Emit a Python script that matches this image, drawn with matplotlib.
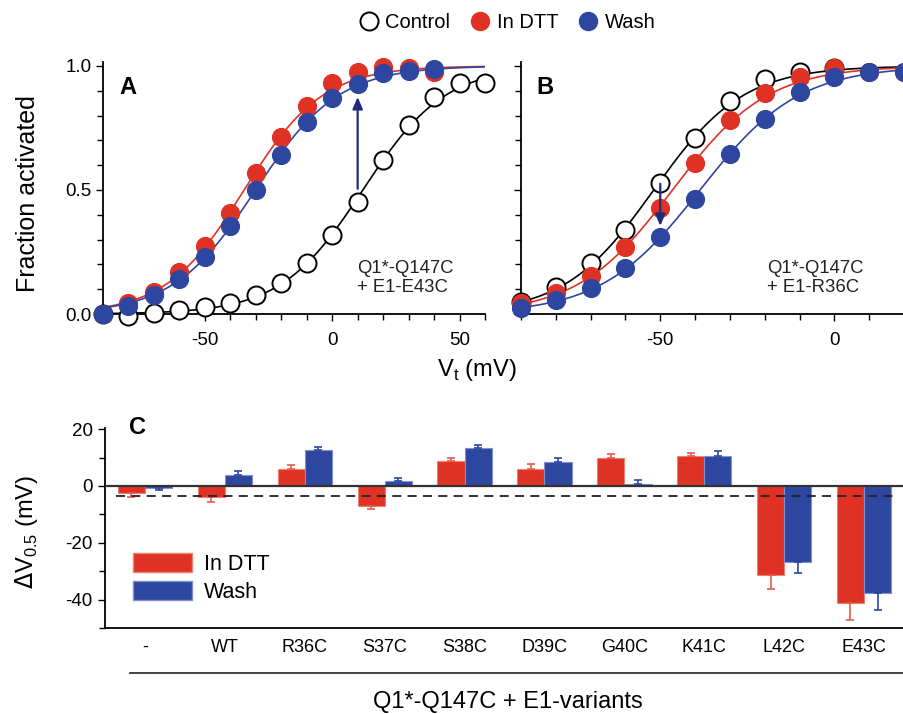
import numpy as np
import matplotlib
matplotlib.use("Agg")
import matplotlib.pyplot as plt
from matplotlib.lines import Line2D
from matplotlib.patches import Patch

plt.rcParams['font.family'] = ['Liberation Sans', 'DejaVu Sans']
plt.rcParams['axes.unicode_minus'] = False

RED = '#E03224'
BLUE = '#2D46A0'
NAVY = '#1F2C7C'

# panel A: Q1*-Q147C + E1-E43C
volt_a = [-90, -80, -70, -60, -50, -40, -30, -20, -10, 0, 10, 20, 30, 40, 50, 60]
ctrl_a = [0.0, -0.01, 0.005, 0.015, 0.03, 0.045, 0.075, 0.125, 0.205, 0.32, 0.45, 0.62, 0.76, 0.875, 0.93, 0.93]
volt_a2 = [-90, -80, -70, -60, -50, -40, -30, -20, -10, 0, 10, 20, 30, 40]
dtt_a = [0.0, 0.045, 0.087, 0.168, 0.275, 0.406, 0.567, 0.715, 0.84, 0.93, 0.975, 0.995, 0.99, 0.975]
wash_a = [0.0, 0.034, 0.077, 0.141, 0.231, 0.355, 0.5, 0.64, 0.773, 0.87, 0.927, 0.97, 0.978, 0.988]

# panel B: Q1*-Q147C + E1-R36C
volt_b = [-90, -80, -70, -60, -50, -40, -30, -20, -10, 0]
ctrl_b = [0.05, 0.11, 0.207, 0.34, 0.527, 0.708, 0.859, 0.948, 0.977, 0.99]
volt_b2 = [-90, -80, -70, -60, -50, -40, -30, -20, -10, 0, 10, 20]
dtt_b = [0.043, 0.083, 0.155, 0.269, 0.429, 0.608, 0.782, 0.89, 0.954, 0.99, 0.977, 0.975]
wash_b = [0.025, 0.056, 0.103, 0.184, 0.312, 0.464, 0.644, 0.788, 0.894, 0.954, 0.975, 0.975]

# panel C
variants = ['-', 'WT', 'R36C', 'S37C', 'S38C', 'D39C', 'G40C', 'K41C', 'L42C', 'E43C']
dv_dtt = [-2.6, -4.0, 6.0, -7.0, 8.8, 6.0, 10.0, 10.6, -31.2, -41.2]
err_dtt = [1.4, 1.8, 1.4, 1.1, 0.9, 1.7, 1.4, 1.1, 5.2, 5.8]
dv_wash = [-0.8, 3.9, 12.5, 1.8, 13.5, 8.4, 0.7, 10.4, -26.7, -37.7]
err_wash = [0.6, 1.5, 1.2, 1.1, 0.9, 1.6, 1.5, 1.9, 4.0, 5.9]
baseline = -3.4


def boltz_fit(v, f, vmin, vmax):
    # Boltzmann fit through logit linearisation of the measured points
    v = np.asarray(v, float)
    f = np.asarray(f, float)
    m = (f > 0.02) & (f < 0.98)
    w = f[m] * (1 - f[m])
    slope, icpt = np.polyfit(v[m], np.log(f[m] / (1 - f[m])), 1, w=w)
    vv = np.linspace(vmin, vmax, 300)
    return vv, 1 / (1 + np.exp(-(slope * vv + icpt)))


def style_axis(ax, xlim, xmajor, show_ylabels):
    ax.set_xlim(*xlim)
    ax.set_ylim(0, 1.016)
    for s in ['top', 'right']:
        ax.spines[s].set_visible(False)
    for s in ['left', 'bottom']:
        ax.spines[s].set_linewidth(1.3)
    ax.set_xticks(xmajor)
    ax.set_xticks(np.arange(xlim[0], xlim[1] + 1, 10), minor=True)
    ax.set_yticks([0, 0.5, 1.0])
    ax.set_yticks(np.arange(0, 1.01, 0.1), minor=True)
    if show_ylabels:
        ax.set_yticklabels(['0.0', '0.5', '1.0'])
    else:
        ax.set_yticklabels([])
    ax.tick_params(which='both', direction='out', width=1.0, labelsize=13.5)
    ax.tick_params(which='major', length=5)
    ax.tick_params(axis='x', which='major', pad=8)
    ax.tick_params(axis='y', which='major', pad=3)
    ax.tick_params(which='minor', length=4)


def draw_panel(ax, v_ctrl, ctrl, v_tr, dtt, wash, xlim):
    for v, f, col in [(v_ctrl, ctrl, 'black'), (v_tr, dtt, RED), (v_tr, wash, BLUE)]:
        vv, ff = boltz_fit(v, f, xlim[0], xlim[1])
        ax.plot(vv, ff, color=col, lw=1.2, zorder=2)
    ax.plot(v_ctrl, ctrl, 'o', ms=13, mfc='white', mec='black', mew=1.4,
            zorder=3, clip_on=False)
    ax.plot(v_tr, dtt, 'o', ms=13, mfc=RED, mec=RED, mew=0.8, zorder=4, clip_on=False)
    ax.plot(v_tr, wash, 'o', ms=13, mfc=BLUE, mec=BLUE, mew=0.8, zorder=5, clip_on=False)


fig = plt.figure(figsize=(9.04, 7.14), dpi=100)
axA = fig.add_axes([0.1139, 0.5602, 0.4226, 0.353])
axB = fig.add_axes([0.5763, 0.5602, 0.4237, 0.353])
axC = fig.add_axes([0.1162, 0.1204, 0.8838, 0.2802])

draw_panel(axA, volt_a, ctrl_a, volt_a2, dtt_a, wash_a, (-90, 60))
style_axis(axA, (-90, 60), [-50, 0, 50], True)
draw_panel(axB, volt_b, ctrl_b, volt_b2, dtt_b, wash_b, (-90, 20))
style_axis(axB, (-90, 20), [-50, 0], False)

arrow = dict(arrowstyle='-|>,head_length=0.7,head_width=0.3', color=NAVY, lw=1.6,
             shrinkA=0, shrinkB=0)
axA.annotate('', xy=(10, 0.875), xytext=(10, 0.505), arrowprops=arrow, zorder=6)
axB.annotate('', xy=(-50, 0.355), xytext=(-50, 0.525), arrowprops=arrow, zorder=6)

axA.text(0.665, 0.215, 'Q1*-Q147C\n+ E1-E43C', transform=axA.transAxes, fontsize=13.3,
         va='top', ha='left', linespacing=1.2, color='#222222')
axB.text(0.642, 0.215, 'Q1*-Q147C\n+ E1-R36C', transform=axB.transAxes, fontsize=13.3,
         va='top', ha='left', linespacing=1.2, color='#222222')
axA.text(0.065, 0.90, 'A', transform=axA.transAxes, fontsize=17, fontweight='bold',
         ha='center', va='center')
axB.text(0.063, 0.90, 'B', transform=axB.transAxes, fontsize=17, fontweight='bold',
         ha='center', va='center')

fig.text(0.031, 0.729, 'Fraction activated', rotation=90, fontsize=18, ha='center', va='center')
fig.text(0.527, 0.482, r'V$_\mathregular{t}$ (mV)', fontsize=17, ha='center', va='center')

top_handles = [
    Line2D([], [], ls='', marker='o', ms=13, mfc='white', mec='black', mew=1.4),
    Line2D([], [], ls='', marker='o', ms=13, mfc=RED, mec=RED),
    Line2D([], [], ls='', marker='o', ms=13, mfc=BLUE, mec=BLUE),
]
fig.legend(top_handles, ['Control', 'In DTT', 'Wash'], loc='center', ncol=3,
           bbox_to_anchor=(0.561, 0.969), frameon=False, fontsize=14.5,
           handlelength=1.0, handletextpad=0.3, columnspacing=1.0, borderpad=0)

# panel C
x = np.arange(len(variants))
w = 0.34
dtt = np.array(dv_dtt)
wash = np.array(dv_wash)
e_dtt = np.array(err_dtt)
e_wash = np.array(err_wash)
yerr_dtt = [np.where(dtt < 0, e_dtt, 0), np.where(dtt >= 0, e_dtt, 0)]
yerr_wash = [np.where(wash < 0, e_wash, 0), np.where(wash >= 0, e_wash, 0)]

axC.bar(x - w / 2, dtt, w, color=RED, edgecolor='#F08070', lw=0.8, zorder=2)
axC.bar(x + w / 2, wash, w, color=BLUE, edgecolor='#8090D0', lw=0.8, zorder=2)
axC.errorbar(x - w / 2, dtt, yerr=yerr_dtt, fmt='none', ecolor='#E85A50', elinewidth=1.2,
             capsize=3, capthick=1.2, zorder=3)
axC.errorbar(x + w / 2, wash, yerr=yerr_wash, fmt='none', ecolor=BLUE, elinewidth=1.2,
             capsize=3, capthick=1.2, zorder=3)
axC.axhline(0, color='#333333', lw=1.6, zorder=4)
axC.hlines(baseline, -0.36, 9.39, colors='#222222', linestyles=(0, (5, 3.5)), lw=1.3, zorder=4)

axC.set_xlim(-0.5, 9.5)
axC.set_ylim(-50, 20.4)
for s in ['top', 'right']:
    axC.spines[s].set_visible(False)
for s in ['left', 'bottom']:
    axC.spines[s].set_linewidth(1.3)
axC.set_xticks(x)
axC.set_xticklabels(variants)
axC.tick_params(axis='x', length=0, labelsize=13, pad=8)
axC.set_yticks([-40, -20, 0, 20])
axC.set_yticks(np.arange(-50, 21, 10), minor=True)
axC.tick_params(axis='y', which='both', direction='out', width=1.0, labelsize=13.5)
axC.tick_params(axis='y', which='major', length=5, pad=4)
axC.tick_params(axis='y', which='minor', length=4)

axC.legend([Patch(facecolor=RED, edgecolor='#F08070'), Patch(facecolor=BLUE, edgecolor='#8090D0')],
           ['In DTT', 'Wash'], loc='upper left', bbox_to_anchor=(133 / 904, 1 - 553 / 714),
           bbox_transform=fig.transFigure, frameon=False, fontsize=15.5, handlelength=2.74,
           handleheight=0.98, labelspacing=0.28, handletextpad=0.56, borderpad=0, borderaxespad=0)

fig.text(137 / 904, 1 - 428 / 714, 'C', fontsize=17, fontweight='bold', ha='center', va='center')
fig.text(0.029, 1 - 532 / 714, r'$\Delta$V$_\mathregular{0.5}$ (mV)', rotation=90, fontsize=17,
         ha='center', va='center')
fig.add_artist(Line2D([130 / 904, 1.0], [1 - 673 / 714] * 2, color='#222222', lw=1.2,
                      transform=fig.transFigure))
fig.text(508 / 904, 1 - 702 / 714, 'Q1*-Q147C + E1-variants', fontsize=17, ha='center', va='center')

fig.savefig('out.png', dpi=100)
